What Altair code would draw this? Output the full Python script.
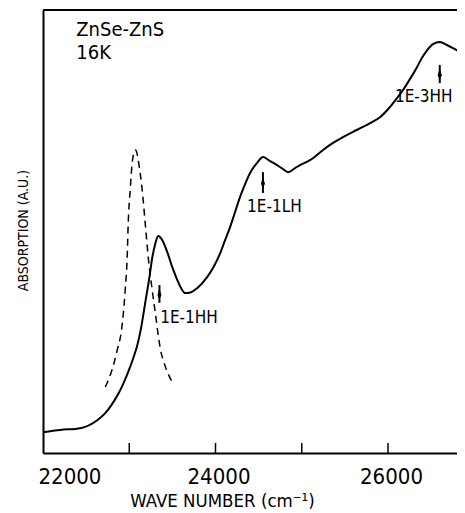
import altair as alt
import pandas as pd

# Solid curve: ZnSe-ZnS superlattice absorption at 16K
solid_x = [22000, 22200, 22432, 22629, 22722, 22803, 22872, 22930, 22988, 23046,
           23092, 23139, 23185, 23231, 23266, 23301, 23336, 23382, 23440, 23498,
           23556, 23602, 23648, 23718, 23787, 23903, 23984, 24054, 24112, 24169,
           24227, 24285, 24343, 24401, 24482, 24552, 24633, 24714, 24783, 24841,
           24922, 24980, 25096, 25247, 25363, 25478, 25594, 25710, 25814, 25907,
           26023, 26104, 26173, 26254, 26336, 26394, 26457, 26521, 26602, 26683,
           26753, 26834, 26897]
solid_y = [4.7, 5.2, 5.6, 7.4, 9.0, 11.1, 13.3, 15.6, 18.3, 21.4,
           24.2, 28.4, 33.9, 39.3, 44.0, 47.2, 49.0, 48.1, 45.4, 42.0,
           39.1, 37.2, 36.1, 36.3, 37.2, 39.7, 42.2, 45.1, 48.1, 51.0,
           54.4, 57.8, 60.7, 63.2, 65.5, 66.8, 65.9, 65.0, 64.1, 63.4,
           64.3, 65.0, 66.1, 68.4, 70.0, 71.3, 72.5, 73.6, 74.7, 75.8,
           78.1, 80.1, 81.9, 84.4, 87.1, 89.2, 91.0, 92.3, 92.8, 92.1,
           91.4, 90.5, 89.8]

# Dashed curve
dashed_x = [22722, 22780, 22826, 22861, 22907, 22930, 22953, 22976, 22988, 23011,
            23034, 23057, 23069, 23081, 23104, 23150, 23185, 23220, 23266, 23301,
            23336, 23359, 23417, 23498]
dashed_y = [14.9, 17.6, 20.5, 23.3, 27.3, 31.2, 36.8, 44.2, 51.9, 59.4,
            65.5, 67.9, 68.4, 68.2, 66.1, 59.4, 51.9, 44.2, 36.8, 31.8,
            26.6, 23.7, 19.6, 16.0]

# Transition annotations
ann_labels = ["1E-1HH", "1E-1LH", "1E-3HH"]
arrow_x = [23350, 24550, 26600]
arrow_top = [37.9, 63.4, 87.6]
arrow_bottom = [33.9, 58.7, 83.5]
label_x = [23359, 24366, 26080]
label_y = [30.5, 55.5, 80.4]

# Sample description
sample_text = ["ZnSe-ZnS", "16K"]
sample_x = [22386, 22386]
sample_y = [95.5, 90.3]

tick_values = [23000, 24000, 25000, 26000]
label_values = [22000, 24000, 26000]

FONT = "Liberation Sans Narrow, DejaVu Sans Condensed, Liberation Sans"
W, H = 414, 443

df_solid = pd.DataFrame({"x": solid_x, "y": solid_y})
df_dash = pd.DataFrame({"x": dashed_x, "y": dashed_y})
df_arrow = pd.DataFrame({"x": arrow_x, "top": arrow_top, "bottom": arrow_bottom,
                         "mid": [(a + b) / 2 for a, b in zip(arrow_top, arrow_bottom)]})
df_lab = pd.DataFrame({"label": ann_labels, "x": label_x, "y": label_y})
df_sample = pd.DataFrame({"t": sample_text, "x": sample_x, "y": sample_y})
df_ticks = pd.DataFrame({"x": tick_values})

xs = alt.Scale(domain=[22000, 26800], nice=False, zero=False)
ys = alt.Scale(domain=[0, 100], nice=False, zero=False)

xaxis = alt.Axis(values=label_values, ticks=False, tickSize=0, grid=False,
                 domainColor="black", domainWidth=2,
                 labelFont=FONT, labelFontSize=22, labelColor="black",
                 labelBaseline="alphabetic", labelPadding=30,
                 labelAlign={"condition": {"test": "datum.value <= 22000", "value": "left"},
                             "value": "center"},
                 labelOffset={"condition": {"test": "datum.value <= 22000", "value": -5},
                              "value": 3},
                 format="d",
                 title="WAVE NUMBER (cm⁻¹)", titleFont=FONT, titleFontSize=18.5,
                 titleFontWeight="normal", titleColor="black",
                 titleX=179, titleY=53, titleAlign="center", titleBaseline="alphabetic")
yaxis = alt.Axis(labels=False, ticks=False, grid=False,
                 domainColor="black", domainWidth=2,
                 title="ABSORPTION (A.U.)", titleFont=FONT, titleFontSize=14,
                 titleFontWeight="normal", titleColor="black",
                 titleX=-19.5, titleY=220, titleAngle=270, titleAlign="center",
                 titleBaseline="middle")

solid = alt.Chart(df_solid).mark_line(color="black", strokeWidth=2,
                                      interpolate="monotone", clip=True).encode(
    x=alt.X("x:Q", scale=xs, axis=xaxis),
    y=alt.Y("y:Q", scale=ys, axis=yaxis))

dashed = alt.Chart(df_dash).mark_line(color="black", strokeWidth=1.5, strokeDash=[7, 5],
                                      interpolate="monotone", clip=True).encode(
    x=alt.X("x:Q", scale=xs), y=alt.Y("y:Q", scale=ys))

arrows = alt.Chart(df_arrow).mark_rule(color="black", strokeWidth=2).encode(
    x=alt.X("x:Q", scale=xs), y=alt.Y("top:Q", scale=ys), y2="bottom:Q")

arrow_heads = alt.Chart(df_arrow).mark_point(
    shape="M0,-1L0.35,0.2L0,1L-0.35,0.2Z", filled=True, color="black", size=130,
    opacity=1).encode(
    x=alt.X("x:Q", scale=xs), y=alt.Y("mid:Q", scale=ys))

labels = alt.Chart(df_lab).mark_text(font=FONT, fontSize=17, align="left",
                                     baseline="middle", color="black").encode(
    x=alt.X("x:Q", scale=xs), y=alt.Y("y:Q", scale=ys), text="label:N")

sample = alt.Chart(df_sample).mark_text(font=FONT, fontSize=20, align="left",
                                        baseline="middle", color="black").encode(
    x=alt.X("x:Q", scale=xs), y=alt.Y("y:Q", scale=ys), text="t:N")

ticks = alt.Chart(df_ticks).mark_rule(color="black", strokeWidth=1.5).encode(
    x=alt.X("x:Q", scale=xs), y=alt.value(H), y2=alt.value(H - 10))

top_frame = alt.Chart(df_ticks).mark_rule(color="black", strokeWidth=2).encode(
    x=alt.value(0), x2=alt.value(W), y=alt.value(0))

chart = alt.layer(solid, dashed, arrows, arrow_heads, labels, sample, ticks, top_frame).properties(
    width=W, height=H,
    autosize=alt.AutoSizeParams(type="none"),
    padding={"left": 35, "top": 2, "right": 0, "bottom": 60},
    background="white",
).configure_view(stroke=None)

chart.save("out.html", embed_options={"renderer": "svg", "actions": False})
